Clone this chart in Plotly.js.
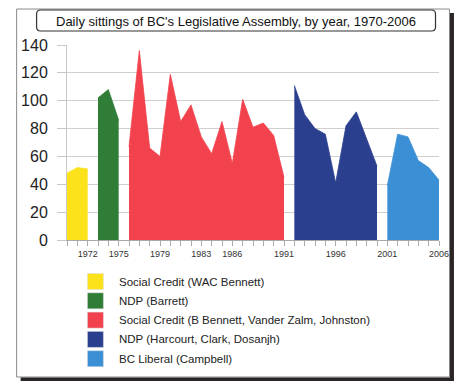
<!DOCTYPE html>
<html>
<head>
<meta charset="utf-8">
<script src="https://cdn.plot.ly/plotly-3.0.1.min.js"></script>
<style>html,body{margin:0;padding:0;background:#fff;}#chart{width:470px;height:391px;}</style>
</head>
<body>
<div id="chart"></div>
<script>
// Data
var wacYears = [1970, 1971, 1972];
var wacSittings = [48, 52, 51];
var barrettYears = [1973, 1974, 1975];
var barrettSittings = [102, 108, 86];
var scYears = [1976, 1977, 1978, 1979, 1980, 1981, 1982, 1983, 1984, 1985, 1986, 1987, 1988, 1989, 1990, 1991];
var scSittings = [67, 136, 66, 60, 119, 85, 97, 74, 62, 85, 55, 101, 81, 84, 75, 45];
var ndpYears = [1992, 1993, 1994, 1995, 1996, 1997, 1998, 1999, 2000];
var ndpSittings = [111, 90, 80, 76, 41, 82, 92, 72, 53];
var libYears = [2001, 2002, 2003, 2004, 2005, 2006];
var libSittings = [39, 76, 74, 57, 52, 43];

var seriesNames = ["Social Credit (WAC Bennett)", "NDP (Barrett)", "Social Credit (B Bennett, Vander Zalm, Johnston)", "NDP (Harcourt, Clark, Dosanjh)", "BC Liberal (Campbell)"];
var seriesColors = ["#FBE21A", "#2F7D37", "#F2424E", "#2B3F8F", "#3A8FD5"];
var labeledYears = [1972, 1975, 1979, 1983, 1986, 1991, 1996, 2001, 2006];
var yTicks = [0, 20, 40, 60, 80, 100, 120, 140];
var chartTitle = "Daily sittings of BC's Legislative Assembly, by year, 1970-2006";

var allX = [wacYears, barrettYears, scYears, ndpYears, libYears];
var allY = [wacSittings, barrettSittings, scSittings, ndpSittings, libSittings];

var traces = allX.map(function (xs, i) {
  return {
    type: "scatter", mode: "lines", x: xs, y: allY[i], name: seriesNames[i],
    fill: "tozeroy", fillcolor: seriesColors[i],
    line: {color: seriesColors[i], width: 0.8}, showlegend: false, hoverinfo: "skip"
  };
});

var tickVals = [], tickText = [];
for (var yr = 1970; yr <= 2006; yr++) {
  tickVals.push(yr);
  tickText.push(labeledYears.indexOf(yr) >= 0 ? String(yr) : "");
}

// pixel -> paper helpers
var L = 66.5, R = 439.5, T = 45, B = 240;
function px(x) { return (x - L) / (R - L); }
function py(y) { return (B - y) / (B - T); }

var shapes = [];
var annotations = [];
// outer frame
shapes.push({type: "rect", xref: "paper", yref: "paper", x0: px(16), x1: px(450), y0: py(9), y1: py(377), line: {color: "#8a8a8a", width: 1}, layer: "below"});
shapes.push({type: "rect", xref: "paper", yref: "paper", x0: px(450.5), x1: px(454.5), y0: py(13), y1: py(381), fillcolor: "#2b2626", line: {width: 0}});
shapes.push({type: "rect", xref: "paper", yref: "paper", x0: px(20), x1: px(454.5), y0: py(377.5), y1: py(381), fillcolor: "#2b2626", line: {width: 0}});
// rounded title box
(function () {
  var x0 = 36, x1 = 436, y0 = 10, y1 = 31, r = 4;
  var p = "M " + px(x0 + r) + "," + py(y0) +
    " L " + px(x1 - r) + "," + py(y0) +
    " Q " + px(x1) + "," + py(y0) + " " + px(x1) + "," + py(y0 + r) +
    " L " + px(x1) + "," + py(y1 - r) +
    " Q " + px(x1) + "," + py(y1) + " " + px(x1 - r) + "," + py(y1) +
    " L " + px(x0 + r) + "," + py(y1) +
    " Q " + px(x0) + "," + py(y1) + " " + px(x0) + "," + py(y1 - r) +
    " L " + px(x0) + "," + py(y0 + r) +
    " Q " + px(x0) + "," + py(y0) + " " + px(x0 + r) + "," + py(y0) + " Z";
  shapes.push({type: "path", xref: "paper", yref: "paper", path: p, fillcolor: "#ffffff", line: {color: "#333", width: 1.2}});
})();
annotations.push({xref: "paper", yref: "paper", x: px(236), y: py(21), text: chartTitle, showarrow: false, xanchor: "center", yanchor: "middle", font: {family: "Liberation Sans, Arial, sans-serif", size: 13, color: "#111"}});

// legend
seriesNames.forEach(function (name, i) {
  var cy = 281.5 + i * 19.3;
  shapes.push({type: "rect", xref: "paper", yref: "paper", x0: px(87), x1: px(103), y0: py(cy - 8), y1: py(cy + 8), fillcolor: seriesColors[i], line: {color: "#dddddd", width: 0.5}});
  annotations.push({xref: "paper", yref: "paper", x: px(117), y: py(cy), text: name, showarrow: false, xanchor: "left", yanchor: "middle", font: {family: "Liberation Sans, Arial, sans-serif", size: 11.5, color: "#222"}});
});

var layout = {
  width: 470, height: 391,
  margin: {l: L, r: 470 - R, t: T, b: 391 - B, pad: 0},
  paper_bgcolor: "#ffffff", plot_bgcolor: "#ffffff",
  showlegend: false,
  xaxis: {
    range: [1970, 2006], tickmode: "array", tickvals: tickVals, ticktext: tickText,
    ticks: "outside", ticklen: 5, tickcolor: "#aaaaaa", tickwidth: 1,
    showgrid: false, zeroline: false, showline: true, linecolor: "#aaaaaa", linewidth: 1,
    tickfont: {family: "Liberation Sans, Arial, sans-serif", size: 9, color: "#333"},
    fixedrange: true
  },
  yaxis: {
    range: [0, 140], tickmode: "array", tickvals: yTicks,
    ticks: "outside", ticklen: 9, tickcolor: "#c8c8c8", tickwidth: 1,
    showgrid: true, gridcolor: "#cfcfcf", gridwidth: 1,
    zeroline: false, showline: true, linecolor: "#c8c8c8", linewidth: 1,
    ticklabelstandoff: 6,
    tickfont: {family: "Liberation Sans, Arial, sans-serif", size: 16, color: "#222"},
    fixedrange: true
  },
  shapes: shapes,
  annotations: annotations
};

Plotly.newPlot("chart", traces, layout, {staticPlot: true, displayModeBar: false});
</script>
</body>
</html>
